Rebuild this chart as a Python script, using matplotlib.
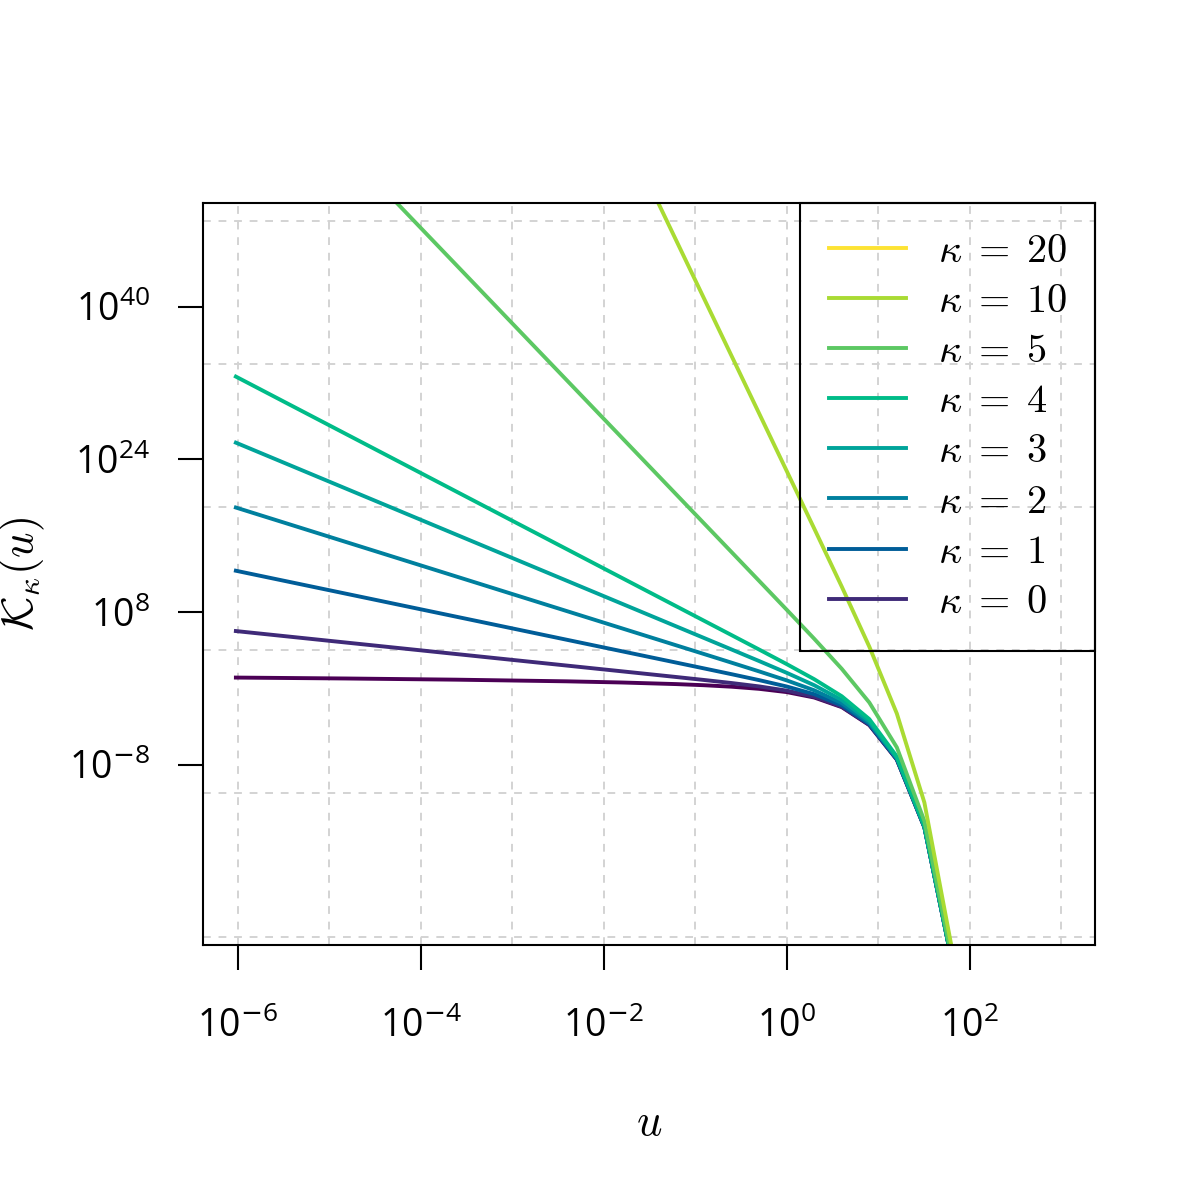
import matplotlib
matplotlib.use("Agg")
import matplotlib.pyplot as plt
from matplotlib.lines import Line2D
import numpy as np

# u grid: powers of two, 2^-20 ... 2^6
u = [2.0**-20, 2.0**-16, 2.0**-12, 2.0**-8, 2.0**-6, 2.0**-4, 2.0**-3,
     2.0**-2, 2.0**-1, 1.0, 2.0, 4.0, 8.0, 16.0, 32.0, 64.0]

# log10 of K_kappa(u)
logk_0 = [1.1455, 1.0494, 0.9260, 0.7529, 0.6309, 0.4613, 0.3439, 0.1879,
          -0.0341, -0.3757, -0.9435, -1.9523, -3.8343, -7.4560, -14.5536, -28.6007]
logk_1 = [6.0206, 4.8165, 3.6124, 2.4082, 1.8059, 1.2012, 0.8938, 0.5737,
          0.2192, -0.2205, -0.8543, -1.9037, -3.8086, -7.4428, -14.5469, -28.5973]
logk_2 = [12.3423, 9.9340, 7.5258, 5.1175, 3.9134, 2.7089, 2.1056, 1.4985,
          0.8779, 0.2108, -0.5956, -1.7594, -3.7321, -7.4033, -14.5269, -28.5873]
logk_3 = [18.9649, 15.3525, 11.7402, 8.1278, 6.3216, 4.5155, 3.6115, 2.7059,
          1.7928, 0.8513, -0.1888, -1.5246, -3.6056, -7.3377, -14.4935, -28.5704]
logk_4 = [25.7637, 20.9471, 16.1307, 11.3142, 8.9059, 6.4977, 5.2931, 4.0872,
          2.8763, 1.6457, 0.3416, -1.2060, -3.4305, -7.2461, -14.4468, -28.5469]
logk_5 = [32.6873, 26.6667, 20.6461, 14.6255, 11.6152, 8.6049, 7.0994, 5.5929,
          4.0827, 2.5574, 0.9746, -0.8115, -3.2082, -7.1289, -14.3868, -28.5166]
logk_10 = [68.4750, 56.4338, 44.3926, 32.3514, 26.3308, 20.3102, 17.2998, 14.2889,
           11.2763, 8.2570, 5.2108, 2.0604, -1.4680, -6.1726, -13.8902, -28.2647]
logk_20 = [143.2167, 119.1343, 95.0519, 70.9695, 58.9283, 46.8871, 40.8666, 34.8455,
           28.8239, 22.7990, 16.7612, 10.6726, 4.3850, -2.6302, -11.9537, -27.2643]

kappas = [0, 1, 2, 3, 4, 5, 10, 20]
series = [logk_0, logk_1, logk_2, logk_3, logk_4, logk_5, logk_10, logk_20]

# 9-step viridis-like palette: lines take the first eight, legend the last eight reversed
palette9 = ["#4B0055", "#3F2A78", "#005D98", "#00809E", "#00A49A",
            "#00BC88", "#5CC863", "#A9DB33", "#FDE333"]

xticks = [1e-6, 1e-4, 1e-2, 1e0, 1e2]
xticklabels = [r"$10^{\mathsf{-}6}$", r"$10^{\mathsf{-}4}$", r"$10^{\mathsf{-}2}$",
               r"$10^{0}$", r"$10^{2}$"]
yticks = [1e-8, 1e8, 1e24, 1e40]
yticklabels = [r"$10^{\mathsf{-}8}$", r"$10^{8}$", r"$10^{24}$", r"$10^{40}$"]
xgrid = [1e-6, 1e-5, 1e-4, 1e-3, 1e-2, 1e-1, 1e0, 1e1, 1e2, 1e3]
ygrid = [1e-26, 1e-11, 1e4, 1e19, 1e34, 1e49]

plt.rcParams["mathtext.fontset"] = "custom"
plt.rcParams["mathtext.rm"] = "Open Sans"
plt.rcParams["mathtext.it"] = "Open Sans:italic"
plt.rcParams["mathtext.bf"] = "Open Sans:bold"
plt.rcParams["mathtext.sf"] = "DejaVu Sans"
plt.rcParams["font.family"] = ["Open Sans", "DejaVu Sans"]

fig = plt.figure(figsize=(6, 6), dpi=200)
ax = fig.add_axes([203 / 1200, 1 - 945 / 1200, 892 / 1200, 742 / 1200])
ax.set_xscale("log")
ax.set_yscale("log")

grid_kw = dict(color="#D3D3D3", lw=0.7, linestyle=(0, (4, 4)), zorder=0)
for gx in xgrid:
    ax.axvline(gx, **grid_kw)
for gy in ygrid:
    ax.axhline(gy, **grid_kw)

for i, (kap, lk) in enumerate(zip(kappas, series)):
    ax.plot(u, 10.0 ** np.array(lk), color=palette9[i], lw=1.4, zorder=2)

ax.set_xlim(10 ** -6.38, 10 ** 3.37)
ax.set_ylim(10 ** -26.88, 10 ** 50.88)

ax.set_xticks(xticks, xticklabels, fontsize=13.5)
ax.set_yticks(yticks, yticklabels, fontsize=13.5)
ax.minorticks_off()
ax.tick_params(direction="out", length=9, width=0.75, color="black")
ax.tick_params(axis="x", pad=13.5)
ax.tick_params(axis="y", pad=10)
for sp in ax.spines.values():
    sp.set_linewidth(0.75)
    sp.set_color("black")

ax.set_xlabel(r"$u$", fontsize=16, math_fontfamily="cm", labelpad=20)
ax.set_ylabel(r"$\mathcal{K}_\kappa(u)$", fontsize=16, math_fontfamily="cm", labelpad=8)

handles = []
labels = []
for j, kap in enumerate(kappas[::-1]):
    handles.append(Line2D([], [], color=palette9[8 - j], lw=1.4))
    labels.append(r"$\kappa\;=\;%d$" % kap)
leg = ax.legend(handles, labels, loc="upper right", borderaxespad=0,
                fontsize=14.5, handlelength=1.91, handletextpad=0.8,
                borderpad=0.7, labelspacing=0.24, fancybox=False,
                facecolor="none", edgecolor="black", framealpha=1)
leg.get_frame().set_linewidth(0.75)
for t in leg.get_texts():
    t.set_math_fontfamily("cm")

fig.savefig("out.png", dpi=200)
